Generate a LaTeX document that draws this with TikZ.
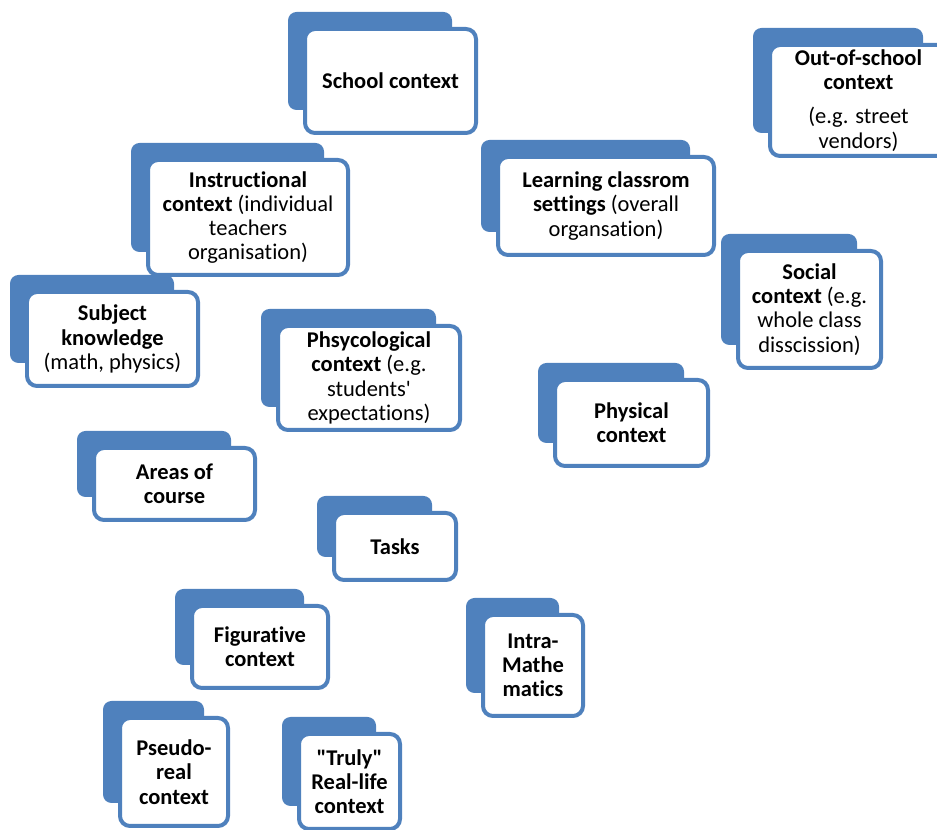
\documentclass[tikz,border=0pt]{standalone}
\usepackage{fontspec}
\setmainfont{Carlito}[Ligatures={TeXOff,CommonOff},RawFeature={-calt}]
\usepackage{tikz}
\usetikzlibrary{positioning}

\definecolor{ctxblue}{HTML}{4F81BD}

% back tab first, then the white card on top (coordinates in px of the layout)
\newcommand{\ctxcard}[6]{%
  \fill[tab] ({#2-15},{#3-15}) rectangle ({#4-26},{#5-25});
  \node[box,minimum width={(#4-#2-4)*0.02cm},minimum height={(#5-#3-4)*0.02cm}]
    (#1) at ({(#2+#4)/2},{(#3+#5)/2}) {#6};
}

\begin{document}
\begin{tikzpicture}[
  x=0.02cm, y=-0.02cm,
  tab/.style={fill=ctxblue,rounded corners=0.17cm},
  box/.style={draw=ctxblue,fill=white,line width=0.08cm,rounded corners=0.2cm,
    align=center,inner sep=2pt,font=\fontsize{12.8}{13.8}\selectfont}
]
  \clip (0,0) rectangle (937,830);
  \ctxcard{school}{303}{27}{478}{135}{\textbf{School context}}
  \ctxcard{outside}{768}{43}{949}{158}{\textbf{Out-of-school}\\\textbf{context}\\[0.2cm](e.g. street\\vendors)}
  \ctxcard{instr}{146}{158}{350}{277}{\textbf{Instructional}\\\textbf{context} (individual\\teachers\\organisation)}
  \ctxcard{classroom}{496}{155}{716}{257}{\textbf{Learning classrom}\\\textbf{settings} (overall\\organsation)}
  \ctxcard{social}{736}{249}{883}{370}{\textbf{Social}\\\textbf{context} (e.g.\\whole class\\disscission)}
  \ctxcard{subject}{25}{290}{200}{388}{\textbf{Subject}\\\textbf{knowledge}\\(math, physics)}
  \ctxcard{psych}{276}{324}{462}{432}{\textbf{Phsycological}\\\textbf{context} (e.g.\\students'\\expectations)}
  \ctxcard{physical}{553}{378}{710}{468}{\textbf{Physical}\\\textbf{context}}
  \ctxcard{areas}{92}{446}{257}{522}{\textbf{Areas of}\\\textbf{course}}
  \ctxcard{tasks}{332}{511}{458}{582}{\textbf{Tasks}}
  \ctxcard{figur}{190}{604}{330}{690}{\textbf{Figurative}\\\textbf{context}}
  \ctxcard{intra}{481}{613}{585}{718}{\textbf{Intra-}\\\textbf{Mathe}\\\textbf{matics}}
  \ctxcard{pseudo}{118}{716}{230}{828}{\textbf{Pseudo-}\\\textbf{real}\\\textbf{context}}
  \ctxcard{truly}{297}{732}{402}{831}{\textbf{"Truly"}\\\textbf{Real-life}\\\textbf{context}}
\end{tikzpicture}
\end{document}
